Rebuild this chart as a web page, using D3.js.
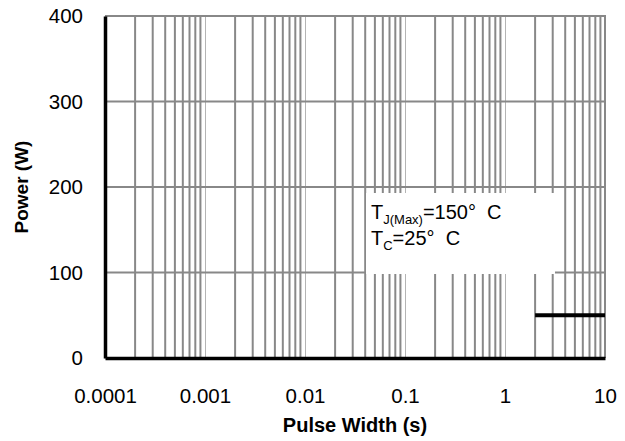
<!DOCTYPE html>
<html>
<head>
<meta charset="utf-8">
<script src="https://cdn.jsdelivr.net/npm/d3@7"></script>
<style>
  body { margin: 0; background: #fff; }
  text { font-family: "Liberation Sans", Arial, sans-serif; fill: #000; }
</style>
</head>
<body>
<div id="chart"></div>
<script>
// data
const pulseWidth = [2, 10];        // s
const power = [50, 50];            // W
const xTicks = [0.0001, 0.001, 0.01, 0.1, 1, 10];
const xTickLabels = ['0.0001', '0.001', '0.01', '0.1', '1', '10'];
const yTicks = [0, 100, 200, 300, 400];
const noteLines = [
  { main: 'T', sub: 'J(Max)', rest: '=150\u00B0  C' },
  { main: 'T', sub: 'C', rest: '=25\u00B0  C' },
];

const width = 625, height = 441;
const margin = { top: 16, right: 20, bottom: 83, left: 105 };

const svg = d3.select('#chart').append('svg')
  .attr('width', width)
  .attr('height', height);

const x = d3.scaleLog()
  .domain([0.0001, 10])
  .range([margin.left, width - margin.right]);
const y = d3.scaleLinear()
  .domain([0, 400])
  .range([height - margin.bottom, margin.top]);

// minor log grid (2..9 in every decade)
const minor = [];
xTicks.slice(0, -1).forEach((d) => {
  for (let k = 2; k <= 9; k++) minor.push(k * d);
});

const grid = svg.append('g');
grid.selectAll('line.major')
  .data(xTicks.slice(1, -1))
  .enter().append('line')
  .attr('class', 'major')
  .attr('x1', (d) => Math.round(x(d)) + 0.5)
  .attr('x2', (d) => Math.round(x(d)) + 0.5)
  .attr('y1', y(400))
  .attr('y2', y(0))
  .attr('stroke', '#b4b4b4')
  .attr('stroke-width', 1);

grid.selectAll('line.minor')
  .data(minor)
  .enter().append('line')
  .attr('class', 'minor')
  .attr('x1', (d) => x(d))
  .attr('x2', (d) => x(d))
  .attr('y1', y(400))
  .attr('y2', y(0))
  .attr('stroke', '#888')
  .attr('stroke-width', 2);

grid.selectAll('line.h')
  .data(yTicks.slice(1))
  .enter().append('line')
  .attr('class', 'h')
  .attr('x1', x(0.0001))
  .attr('x2', x(10))
  .attr('y1', (d) => y(d))
  .attr('y2', (d) => y(d))
  .attr('stroke', '#888')
  .attr('stroke-width', 2);

// right border
grid.append('line')
  .attr('x1', x(10)).attr('x2', x(10))
  .attr('y1', y(400) - 1).attr('y2', y(0))
  .attr('stroke', '#888')
  .attr('stroke-width', 2);

// note box, drawn over the grid
const note = svg.append('g');
note.append('rect')
  .attr('x', 366)
  .attr('y', 193)
  .attr('width', 189)
  .attr('height', 81)
  .attr('fill', '#fff');

const noteText = note.selectAll('text')
  .data(noteLines)
  .enter().append('text')
  .attr('x', 371)
  .attr('y', (d, i) => 219 + i * 26)
  .style('font-size', '20px');
noteText.append('tspan').text((d) => d.main);
noteText.append('tspan')
  .attr('dy', 5)
  .style('font-size', '13px')
  .text((d) => d.sub);
noteText.append('tspan')
  .attr('dy', -5)
  .attr('xml:space', 'preserve')
  .style('white-space', 'pre')
  .text((d) => d.rest);

// series
const line = d3.line()
  .x((d, i) => x(pulseWidth[i]))
  .y((d) => y(d));
svg.append('path')
  .datum(power)
  .attr('d', line)
  .attr('fill', 'none')
  .attr('stroke', '#000')
  .attr('stroke-width', 4);

// axes
const xAxis = d3.axisBottom(x)
  .tickValues(xTicks)
  .tickFormat((d, i) => xTickLabels[i])
  .tickSize(0)
  .tickPadding(30);
const gx = svg.append('g')
  .attr('transform', `translate(0,${y(0)})`)
  .call(xAxis);
gx.select('.domain').attr('stroke', '#000').attr('stroke-width', 3.5);
gx.selectAll('text').style('font-size', '20.5px');

const yAxis = d3.axisLeft(y)
  .tickValues(yTicks)
  .tickSize(0)
  .tickPadding(22);
const gy = svg.append('g')
  .attr('transform', `translate(${x(0.0001)},0)`)
  .call(yAxis);
gy.select('.domain').attr('stroke', '#000').attr('stroke-width', 3.5);
gy.selectAll('text').style('font-size', '20.5px');

// titles
svg.append('text')
  .attr('x', (x.range()[0] + x.range()[1]) / 2)
  .attr('y', 432)
  .attr('text-anchor', 'middle')
  .style('font-size', '20px')
  .style('font-weight', 'bold')
  .text('Pulse Width (s)');

svg.append('text')
  .attr('transform', `translate(28,${(y(0) + y(400)) / 2}) rotate(-90)`)
  .attr('text-anchor', 'middle')
  .style('font-size', '19px')
  .style('font-weight', 'bold')
  .text('Power (W)');
</script>
</body>
</html>
